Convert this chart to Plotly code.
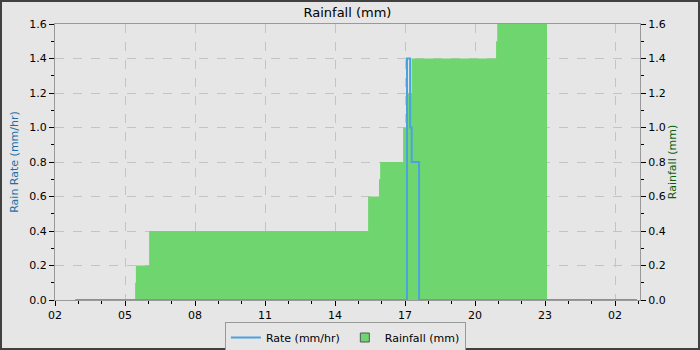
import plotly.graph_objects as go

DAY1 = "2024-01-15 "
DAY2 = "2024-01-16 "

# Rain rate (mm/hr), step data
rate_times = [DAY1 + "02:52", DAY1 + "17:05", DAY1 + "17:13", DAY1 + "17:17", DAY1 + "17:36", DAY2 + "02:56"]
rate_values = [0.0, 1.4, 1.0, 0.8, 0.0, 0.0]

# Cumulative rainfall (mm), step data
rain_times = [DAY1 + t for t in ["05:26", "05:28", "06:02", "15:25", "15:53", "15:56",
                                 "16:55", "17:04", "17:17", "20:54", "20:57", "23:05"]]
rain_values = [0.1, 0.2, 0.4, 0.6, 0.7, 0.8, 1.0, 1.2, 1.4, 1.5, 1.6, 1.6]

y_ticks = [0.0, 0.2, 0.4, 0.6, 0.8, 1.0, 1.2, 1.4, 1.6]

FONT = "DejaVu Sans"
BG = "#e6e6e6"
GREEN = "#6fd66f"
BLUE = "#4aa3df"

fig = go.Figure()

fig.add_trace(go.Scatter(
    x=rain_times, y=rain_values, name="Rainfall (mm)",
    mode="lines", line=dict(shape="hv", width=0, color=GREEN),
    fill="tozeroy", fillcolor=GREEN, yaxis="y2", showlegend=False,
))
# legend entry for rainfall: square swatch
fig.add_trace(go.Scatter(
    x=[None], y=[None], name="Rainfall (mm)", mode="markers",
    marker=dict(symbol="square", size=9, color=GREEN, line=dict(color="#555555", width=1)),
    yaxis="y2", legendrank=2,
))
fig.add_trace(go.Scatter(
    x=rate_times, y=rate_values, name="Rate (mm/hr)",
    mode="lines", line=dict(shape="hv", width=2, color=BLUE),
    yaxis="y", legendrank=1,
))

axis_common = dict(
    range=[0, 1.6], tickvals=y_ticks, tickformat=".1f",
    ticks="outside", ticklen=5, tickcolor="#000", tickwidth=1,
    showline=True, linecolor="#999999", linewidth=1,
    minor=dict(dtick=0.1, ticks="outside", ticklen=3, tickcolor="#000", showgrid=False),
    tickfont=dict(family=FONT, size=11, color="#000"),
    zeroline=False, fixedrange=True,
)

fig.update_layout(
    width=700, height=350,
    margin=dict(l=55, r=60, t=24, b=50, autoexpand=False),
    paper_bgcolor=BG, plot_bgcolor=BG,
    font=dict(family=FONT, size=11, color="#000"),
    title=dict(text="Rainfall (mm)", x=0.4964, xanchor="center", y=1 - 12 / 350,
               yanchor="middle", yref="container", font=dict(family=FONT, size=13, color="#000")),
    xaxis=dict(
        type="date",
        range=[DAY1 + "02:00", DAY2 + "03:04"],
        tick0=DAY1 + "02:00", dtick=3 * 3600000, tickformat="%H",
        ticks="outside", ticklen=5, tickcolor="#000",
        showline=True, linecolor="#999999", linewidth=1, mirror=True,
        showgrid=True, gridcolor="#c4c4c4", griddash="dash", gridwidth=1,
        minor=dict(dtick=3600000, ticks="outside", ticklen=3, tickcolor="#000", showgrid=False),
        tickfont=dict(family=FONT, size=11, color="#000"),
        zeroline=False,
    ),
    yaxis2=dict(
        side="right", anchor="x",
        title=dict(text="Rainfall (mm)", font=dict(family=FONT, size=11, color="#0b5e0b"), standoff=0),
        showgrid=True, gridcolor="#c4c4c4", griddash="dash", gridwidth=1,
        **axis_common,
    ),
    yaxis=dict(
        side="left", overlaying="y2", anchor="x",
        title=dict(text="Rain Rate (mm/hr)", font=dict(family=FONT, size=11, color="#1c6fa8"), standoff=8),
        showgrid=False,
        **axis_common,
    ),
    legend=dict(
        orientation="h", x=0.4964, xanchor="center", y=-22 / 276, yanchor="top",
        bgcolor=BG, bordercolor="#999999", borderwidth=1,
        font=dict(family=FONT, size=11, color="#000"), itemwidth=30,
        traceorder="normal",
    ),
    showlegend=True,
)

# dark outer frame of the image
pw = 700 - 55 - 60
ph = 350 - 24 - 50
fig.add_shape(type="rect", xref="paper", yref="paper",
              x0=-55 / pw, x1=1 + 60 / pw, y0=-50 / ph, y1=1 + 24 / ph,
              line=dict(color="#404040", width=4), fillcolor="rgba(0,0,0,0)", layer="above")

fig.write_html("out.html")
